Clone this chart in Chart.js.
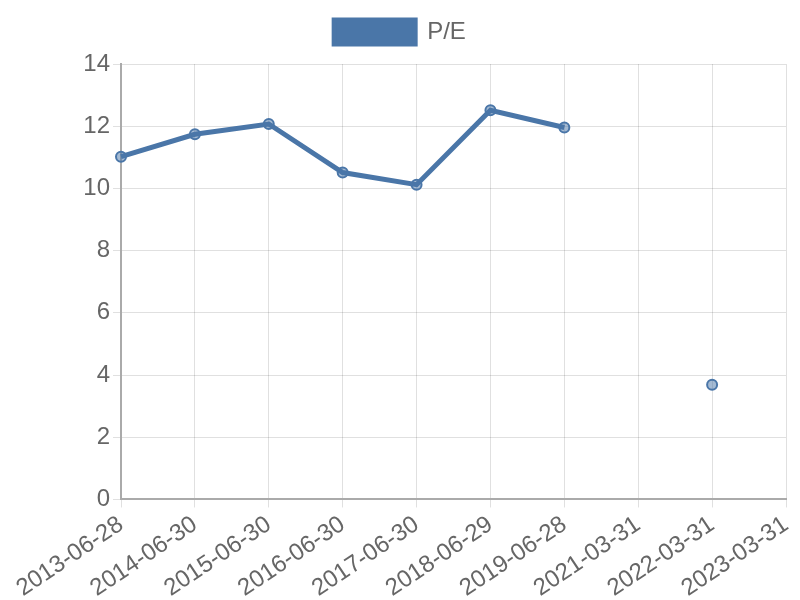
<!DOCTYPE html>
<html>
<head>
<meta charset="utf-8">
<script src="https://cdn.jsdelivr.net/npm/chart.js@4/dist/chart.umd.min.js"></script>
<style>
  body { margin: 0; background: #fff; }
</style>
</head>
<body>
<canvas id="chart" width="800" height="600"></canvas>
<script>
var dates = [
    "2013-06-28",
    "2014-06-30",
    "2015-06-30",
    "2016-06-30",
    "2017-06-30",
    "2018-06-29",
    "2019-06-28",
    "2021-03-31",
    "2022-03-31",
    "2023-03-31"
];

var peValues = [11.02, 11.74, 12.07, 10.51, 10.12, 12.51, 11.96, null, 3.69, null];

var yTicks = [0, 2, 4, 6, 8, 10, 12, 14];

Chart.defaults.font.family = "'Liberation Sans', Arial, sans-serif";
Chart.defaults.font.size = 24;
Chart.defaults.color = '#666';

// a bit more room under the legend
var legendMargin = {
    id: 'legendMargin',
    beforeInit: function(chart) {
        var fit = chart.legend.fit;
        chart.legend.fit = function() {
            fit.bind(chart.legend)();
            this.height += 10;
        };
    }
};

var config = {
    type: 'line',
    data: {
        labels: dates,
        datasets: [{
            label: 'P/E',
            data: peValues,
            borderColor: '#4a76a8',
            backgroundColor: '#4a76a8',
            borderWidth: 5,
            pointRadius: 5,
            pointBorderWidth: 2,
            pointBackgroundColor: 'rgba(74,118,168,0.5)',
            pointBorderColor: '#4a76a8',
            tension: 0,
            fill: false,
            spanGaps: false
        }]
    },
    options: {
        responsive: false,
        animation: false,
        layout: { padding: { right: 0, left: 0, top: 0, bottom: -6 } },
        plugins: {
            legend: {
                labels: { boxWidth: 81, boxHeight: 24, padding: 20, font: { size: 24 } }
            },
            tooltip: { enabled: false }
        },
        scales: {
            x: {
                grid: { color: 'rgba(0,0,0,0.12)', tickLength: 8 },
                border: { color: '#aaa', width: 2 },
                ticks: { maxRotation: 34, minRotation: 34 },
                afterFit: function(axis) {
                    axis.paddingRight = 14;
                }
            },
            y: {
                min: 0,
                max: 14,
                afterBuildTicks: function(axis) {
                    axis.ticks = yTicks.map(function(v) { return { value: v }; });
                },
                afterFit: function(axis) {
                    axis.width = 121;
                },
                grid: { color: 'rgba(0,0,0,0.12)', tickLength: 8 },
                border: { color: '#aaa', width: 2 }
            }
        }
    },
    plugins: [legendMargin]
};

window.onload = function() {
    var ctx = document.getElementById("chart").getContext("2d");
    window.myLine = new Chart(ctx, config);
};
</script>
</body>
</html>
